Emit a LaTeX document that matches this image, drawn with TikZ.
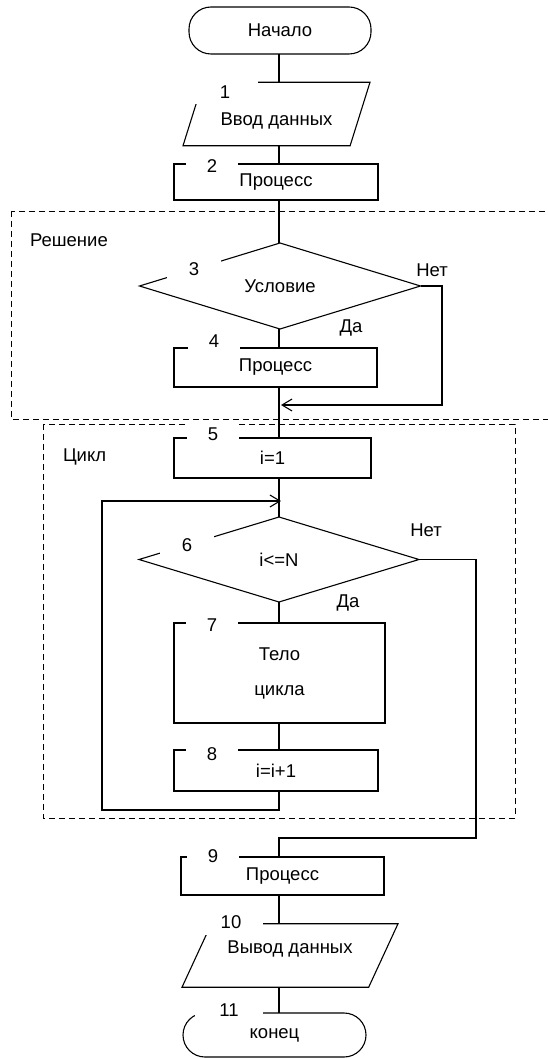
\documentclass[tikz,border=0pt]{standalone}
\usepackage{fontspec}
\setmainfont{Liberation Sans}
\usetikzlibrary{shapes.geometric,arrows.meta}

\begin{document}
\begin{tikzpicture}[
  x=1pt,y=-1pt,
  font=\fontsize{18.5}{22}\selectfont,
  line width=1.1pt,
  every node/.style={inner sep=0pt,outer sep=0pt},
  term/.style={draw,rounded corners=22pt},
  io/.style={draw,trapezium,trapezium stretches body=true,inner ysep=16pt},
  proc/.style={draw,rectangle},
  cond/.style={draw,diamond},
  num/.style={fill=white,minimum width=52pt,minimum height=20pt},
  grp/.style={line width=0.8pt,dash pattern=on 6pt off 4pt},
  arr/.style={-{Straight Barb[length=10pt,width=12pt]}},
]
\useasboundingbox (0,0) rectangle (548,1059);

% области
\draw[grp] (11,211) rectangle (600,419);
\draw[grp] (43,424) rectangle (515,818);
\node[anchor=west] (lsol) at (30,240) {Решение};
\node[anchor=west] (lcyc) at (63,457) {Цикл};

% начало и ввод
\node[term,minimum width=182pt,minimum height=47pt] (start) at (280,30.5) {Начало};
\node[io,trapezium left angle=72.6,trapezium right angle=107.4,minimum width=187pt,text height=27.5pt,text depth=4pt] (in1) at (276.5,114) {Ввод данных};
\node[proc,minimum width=204pt,minimum height=36pt] (p2) at (276,182) {Процесс};

% решение
\node[cond,minimum width=281pt,minimum height=86pt] (c3) at (280,286) {Условие};
\node[proc,minimum width=203pt,minimum height=39pt] (p4) at (275.5,367.5) {Процесс};
\node (no3) at (432,270) {Нет};
\node (yes3) at (351,328) {Да};

% цикл
\node[proc,minimum width=197pt,minimum height=40pt] (p5) at (272.5,458) {i=1};
\node[cond,minimum width=280pt,minimum height=85pt] (c6) at (279,559.5) {i<=N};
\node[proc,minimum width=211pt,minimum height=100pt,align=center] (p7) at (279.5,673) {Тело\\[13pt]цикла};
\node[proc,minimum width=204pt,minimum height=41pt] (p8) at (276,770.5) {i=i+1};
\node (no6) at (426,530) {Нет};
\node (yes6) at (348,603) {Да};

% вывод и конец
\node[proc,minimum width=203pt,minimum height=38pt] (p9) at (282.5,876) {Процесс};
\node[io,trapezium left angle=65.2,trapezium right angle=114.8,minimum width=216pt,text height=13.5pt,text depth=18pt] (out10) at (290,955.5) {Вывод данных};
\node[term,minimum width=183pt,minimum height=44pt] (stop) at (274.5,1035) {конец};

% номера блоков
\node[num,minimum width=65pt,minimum height=24pt] (n1) at (225,92) {1};
\node[num] (n2) at (212,166) {2};
\node[num,minimum width=54pt,minimum height=19pt] (n3) at (194,269) {3};
\node[num] (n4) at (214,341) {4};
\node[num,minimum height=24pt] (n5) at (213,434) {5};
\node[num,minimum width=54pt,minimum height=19pt] (n6) at (187,545) {6};
\node[num] (n7) at (212,625) {7};
\node[num] (n8) at (212,754) {8};
\node[num] (n9) at (213,856) {9};
\node[num,minimum width=63pt,minimum height=26pt] (n10) at (231,922) {10};
\node[num,minimum width=68pt,minimum height=22pt] (n11) at (229,1010) {11};

% связи
\coordinate (ax) at (279,0);
\draw (start.south -| ax) -- (in1.north -| ax);
\draw (in1.south -| ax) -- (p2.north -| ax);
\draw (p2.south -| ax) -- (c3.north -| ax);
\draw (c3.south -| ax) -- (p4.north -| ax);
\draw (p4.south -| ax) -- (p5.north -| ax);
\draw (p5.south -| ax) -- (c6.north -| ax);
\draw (c6.south -| ax) -- (p7.north -| ax);
\draw (p7.south -| ax) -- (p8.north -| ax);
\draw (p9.south -| ax) -- (out10.north -| ax);
\draw (out10.south -| ax) -- (stop.north -| ax);

\coordinate (r3) at (442,405);
\coordinate (m3) at (281,405);
\draw[arr] (c3.east) -| (r3) -- (m3);

\coordinate (l6) at (102,810);
\coordinate (m6) at (281,501);
\draw[arr] (p8.south -| ax) |- (l6) |- (m6);

\coordinate (r6) at (476,838);
\draw (c6.east) -| (r6) -| (p9.north -| ax);

\end{tikzpicture}
\end{document}
